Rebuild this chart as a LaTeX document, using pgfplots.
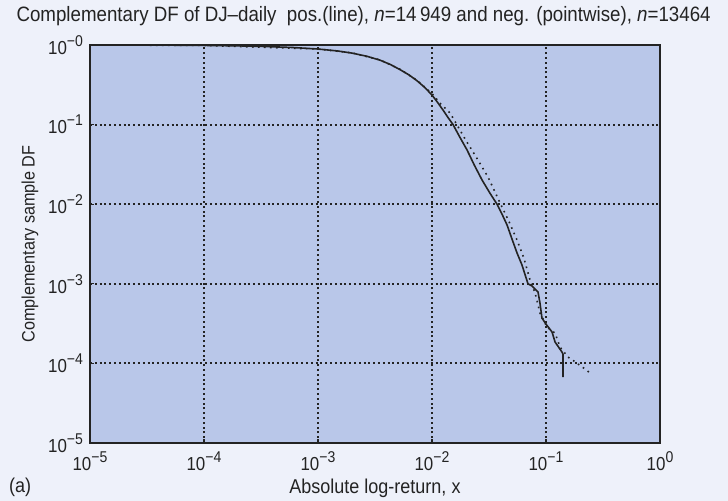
\documentclass[border=0pt]{standalone}
\usepackage{fontspec}
\setmainfont{Liberation Sans}[FakeStretch=0.9]
\usepackage{pgfplots}
\pgfplotsset{compat=1.18}
\definecolor{outerbg}{RGB}{238,241,250}
\definecolor{innerbg}{RGB}{185,199,233}
\definecolor{ink}{RGB}{35,35,35}
\newcommand{\tl}[1]{10\raisebox{0.42em}{\fontsize{7.8}{8}\selectfont #1}}

\begin{document}
\begin{tikzpicture}
\useasboundingbox (-45pt,-29pt) rectangle (319pt,221.5pt);
\fill[outerbg] (-45pt,-29pt) rectangle (319pt,221.5pt);
\begin{axis}[
at={(0,0)},anchor=south west,
scale only axis,width=285pt,height=199pt,
xmode=log,ymode=log,
xmin=1e-5,xmax=1,ymin=1e-5,ymax=1,
axis background/.style={fill=innerbg},
axis line style={ink,line width=0.9pt},
xtick={1e-5,1e-4,1e-3,1e-2,1e-1,1},
ytick={1e-5,1e-4,1e-3,1e-2,1e-1,1},
xticklabels={\tl{−5},\tl{−4},\tl{−3},\tl{−2},\tl{−1},\tl{0}},
yticklabels={\tl{−5},\tl{−4},\tl{−3},\tl{−2},\tl{−1},\tl{−0}},
minor tick style={draw=none},
major tick length=2pt,
tick style={ink,line width=0.6pt},
tick align=inside,
xtick pos=bottom,ytick pos=left,
grid=major,
major grid style={ink,line width=1pt,dash pattern=on 1pt off 1.4pt},
tick label style={font=\fontsize{9.4}{10}\selectfont,text=ink},
xticklabel style={yshift=-1pt},
yticklabel style={xshift=0pt},
title={Complementary DF of DJ–daily\ \ pos.(line), \textit{n}=14\,949 and neg. (pointwise), \textit{n}=13464},
title style={font=\fontsize{10.4}{12}\selectfont,text=ink,at={(0.48,1)},yshift=0pt},
xlabel={Absolute log-return, x},
ylabel={Complementary sample DF},
xlabel style={font=\fontsize{10}{12}\selectfont,text=ink,yshift=3pt},
ylabel style={font=\fontsize{9}{11}\selectfont,text=ink,yshift=-2pt},
clip=true,
]
\addplot[ink,line width=0.8pt] coordinates {
(1e-5,1) (5e-5,0.995) (1e-4,0.988) (2e-4,0.975) (3e-4,0.963) (6e-4,0.93) (1e-3,0.89)
(1.5e-3,0.84) (2e-3,0.79) (2.7e-3,0.72) (3.5e-3,0.645) (4.3e-3,0.57) (5.25e-3,0.49)
(6.3e-3,0.42) (7.4e-3,0.355) (8.7e-3,0.29) (0.01,0.235)
(0.0112,0.19) (0.0125,0.152) (0.0138,0.123) (0.0153,0.1) (0.0175,0.07) (0.0203,0.048)
(0.0235,0.031) (0.0275,0.0201) (0.0322,0.0138) (0.0372,0.01)
(0.0415,0.0073) (0.0455,0.0055) (0.0505,0.0036) (0.0557,0.00244) (0.0616,0.00172) (0.0695,0.001)
(0.0753,0.00094) (0.0851,0.00079) (0.0886,0.00057) (0.0922,0.00037)
(0.102,0.0003) (0.113,0.000248) (0.12,0.000186) (0.138,0.000139)
(0.141,0.000131) (0.141,6.7e-5)
};
\addplot[ink,line width=0.8pt,dash pattern=on 0.8pt off 2.2pt] coordinates {
(1e-5,1) (1e-4,0.988) (1e-3,0.89) (2e-3,0.795) (3.5e-3,0.65) (5.25e-3,0.495)
(7.4e-3,0.36) (0.01,0.245) (0.012,0.18) (0.0144,0.14) (0.0165,0.1) (0.02,0.062) (0.0238,0.0415) (0.031,0.022)
(0.0395,0.0104) (0.047,0.0062) (0.0557,0.00355) (0.064,0.0021) (0.0724,0.00112) (0.0802,0.00077)
(0.0886,0.00043) (0.102,0.000286) (0.12,0.00024) (0.133,0.00016)
(0.156,0.00012) (0.176,0.000107) (0.22,8.5e-5) (0.248,7.4e-5)
};
\end{axis}
\node[anchor=base west,font=\fontsize{10}{12}\selectfont,text=ink] at (-44pt,-25pt) {(a)};
\end{tikzpicture}
\end{document}
